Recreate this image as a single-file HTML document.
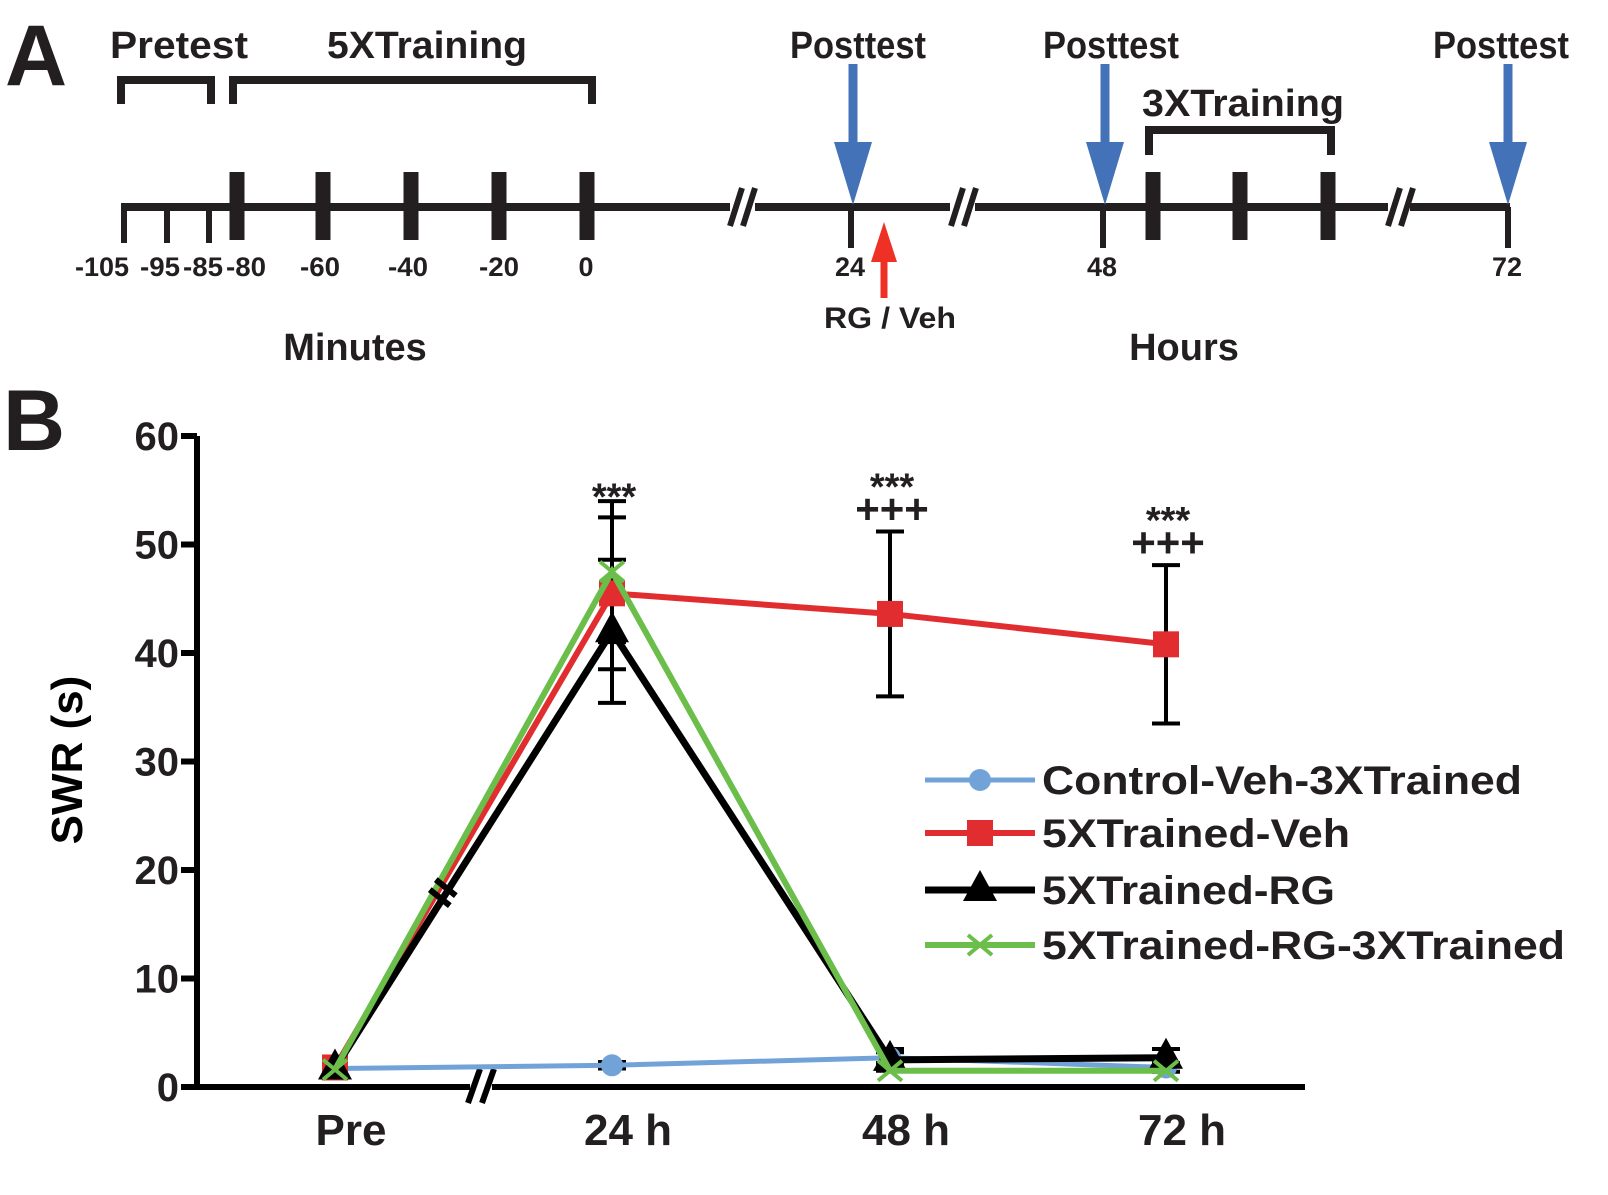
<!DOCTYPE html>
<html><head><meta charset="utf-8"><style>
html,body{margin:0;padding:0;background:#fff}
svg{display:block;font-family:"Liberation Sans",Arial,sans-serif;font-weight:bold}
</style></head><body>
<svg id="fig" width="1608" height="1195" viewBox="0 0 1608 1195">
<g fill="#231f20">
  <text x="5" y="85" font-size="86">A</text>
  <text x="110" y="58" font-size="38" textLength="138" lengthAdjust="spacingAndGlyphs">Pretest</text>
  <text x="327" y="58" font-size="38" textLength="200" lengthAdjust="spacingAndGlyphs">5XTraining</text>
  <path d="M121,104 V80 H211 V104 M233,104 V80 H592 V104" fill="none" stroke="#231f20" stroke-width="8"/>
  <text x="790" y="58" font-size="38" textLength="136" lengthAdjust="spacingAndGlyphs">Posttest</text>
  <text x="1043" y="58" font-size="38" textLength="136" lengthAdjust="spacingAndGlyphs">Posttest</text>
  <text x="1433" y="58" font-size="38" textLength="136" lengthAdjust="spacingAndGlyphs">Posttest</text>
  <text x="1142" y="116" font-size="38" textLength="202" lengthAdjust="spacingAndGlyphs">3XTraining</text>
  <path d="M1149,155 V130 H1331 V155" fill="none" stroke="#231f20" stroke-width="8"/>
  <path d="M121,207 H730 M755,207 H950 M975,207 H1388 M1410,207 H1510" stroke="#231f20" stroke-width="8"/>
  <path d="M730,226 L742,188 M743,226 L755,188 M951,226 L963,188 M964,226 L976,188 M1388,226 L1400,188 M1401,226 L1413,188" stroke="#231f20" stroke-width="6"/>
  <path d="M124,203 V243 M167,203 V243 M209,203 V243 M851,207 V248 M1103,207 V248 M1508,207 V248" stroke="#231f20" stroke-width="6"/>
  <path d="M237,172 V240 M323,172 V240 M411,172 V240 M499,172 V240 M587,172 V240 M1153,172 V240 M1240,172 V240 M1328,172 V240" stroke="#231f20" stroke-width="15"/>
  <g font-size="27" text-anchor="middle">
    <text x="102" y="276" textLength="54" lengthAdjust="spacingAndGlyphs">-105</text><text x="160" y="276" textLength="40" lengthAdjust="spacingAndGlyphs">-95</text><text x="203" y="276" textLength="40" lengthAdjust="spacingAndGlyphs">-85</text><text x="246" y="276" textLength="40" lengthAdjust="spacingAndGlyphs">-80</text>
    <text x="320" y="276" textLength="40" lengthAdjust="spacingAndGlyphs">-60</text><text x="408" y="276" textLength="40" lengthAdjust="spacingAndGlyphs">-40</text><text x="499" y="276" textLength="40" lengthAdjust="spacingAndGlyphs">-20</text><text x="586" y="276">0</text>
    <text x="850" y="276">24</text><text x="1102" y="276">48</text><text x="1507" y="276">72</text>
    <text x="890" y="328" font-size="30" textLength="132" lengthAdjust="spacingAndGlyphs">RG / Veh</text>
  </g>
  <text x="355" y="360" font-size="38" text-anchor="middle">Minutes</text>
  <text x="1184" y="360" font-size="38" text-anchor="middle">Hours</text>
  <g fill="#4472b8" stroke="#4472b8">
    <path d="M853,64 V150" stroke-width="9"/><path d="M834,142 L872,142 L853,205Z" stroke="none"/>
    <path d="M1105,64 V150" stroke-width="9"/><path d="M1086,142 L1124,142 L1105,205Z" stroke="none"/>
    <path d="M1508,64 V150" stroke-width="9"/><path d="M1489,142 L1527,142 L1508,205Z" stroke="none"/>
  </g>
  <g fill="#ee3124" stroke="#ee3124"><path d="M884,298 V255" stroke-width="7"/><path d="M871,262 L897,262 L884,222Z" stroke="none"/></g>
</g>
<text x="3" y="450" font-size="86" fill="#231f20">B</text>
<g id="chart"></g>
<script>
const categories = ["Pre", "24 h", "48 h", "72 h"];
const yTicks = [0, 10, 20, 30, 40, 50, 60];
const seriesNames = ["Control-Veh-3XTrained", "5XTrained-Veh", "5XTrained-RG", "5XTrained-RG-3XTrained"];
const controlVals = [1.7, 2.0, 2.7, 1.8];
const vehVals = [1.8, 45.5, 43.6, 40.8];
const rgVals = [1.7, 42.0, 2.5, 2.7];
const rg3Vals = [1.6, 47.5, 1.5, 1.5];
const controlErr = [0, 0.3, 0.5, 0.4];
const vehErr = [0, 7.0, 7.6, 7.3];
const rgErr = [0, 6.6, 1.0, 0.8];
const rg3Err = [0, 6.5, 0, 0];
const annStars = ["", "***", "***", "***"];
const annPlus = ["", "", "+++", "+++"];

const NS = "http://www.w3.org/2000/svg";
const g = document.getElementById("chart");
const x0 = 197, x1 = 1305, yBase = 1087, yTop = 436;
const xPos = [335, 612, 890, 1166];
function Y(v){ return yBase - v / 60 * (yBase - yTop); }
function mk(tag, attrs, parent){ const e = document.createElementNS(NS, tag); for (const k in attrs) e.setAttribute(k, attrs[k]); (parent||g).appendChild(e); return e; }
function xs(i){ return xPos[i]; }

let ax = mk("path", {d:`M${x0},${yTop} V${yBase} H${x1}`, fill:"none", stroke:"#000", "stroke-width":6});


yTicks.forEach(t => {
  mk("line", {x1:x0-16, x2:x0, y1:Y(t), y2:Y(t), stroke:"#000", "stroke-width":6});
  const tx = mk("text", {x:x0-18, y:Y(t)+14, "font-size":40, "text-anchor":"end", fill:"#231f20"});
  tx.textContent = t;
  
  
});
categories.forEach((c, i) => {
  const tx = mk("text", {x:xs(i)+16, y:1145, "font-size":44, "text-anchor":"middle", fill:"#231f20"});
  tx.textContent = c;
  
  
});
const yl = mk("text", {x:0, y:0, "font-size":44, "text-anchor":"middle", fill:"#000", transform:"translate(82,760) rotate(-90)"});
yl.textContent = "SWR (s)";


mk("rect", {x:470, y:yBase-14, width:22, height:28, fill:"#fff"});
mk("path", {d:`M468,${yBase+16} L480,${yBase-18} M482,${yBase+16} L494,${yBase-18}`, stroke:"#000", "stroke-width":6});

const series = [
  {vals:controlVals, err:controlErr, color:"#72a3d8", w:5, m:"circle"},
  {vals:vehVals, err:vehErr, color:"#e12d2f", w:6, m:"square"},
  {vals:rgVals, err:rgErr, color:"#000", w:7, m:"triangle"},
  {vals:rg3Vals, err:rg3Err, color:"#6cbe4b", w:6, m:"x"}
];
series.forEach(s => s.vals.forEach((v, i) => {
  if (!s.err[i]) return;
  const e = mk("path", {d:`M${xs(i)},${Y(v+s.err[i])} V${Y(v-s.err[i])} M${xs(i)-14},${Y(v+s.err[i])} H${xs(i)+14} M${xs(i)-14},${Y(v-s.err[i])} H${xs(i)+14}`, stroke:"#000", "stroke-width":4, fill:"none"});
  
  
}));
function marker(type, x, y, color, parent){
  let e;
  if (type === "circle") e = mk("circle", {cx:x, cy:y, r:11, fill:color}, parent);
  else if (type === "square") e = mk("rect", {x:x-13, y:y-13, width:26, height:26, fill:color}, parent);
  else if (type === "triangle") e = mk("path", {d:`M${x},${y-20} L${x+17},${y+11} L${x-17},${y+11}Z`, fill:color}, parent);
  else e = mk("path", {d:`M${x-12},${y-10} L${x+12},${y+10} M${x-12},${y+10} L${x+12},${y-10}`, stroke:color, "stroke-width":4}, parent);
  return e;
}
series.forEach((s, si) => {
  const pts = s.vals.map((v, i) => `${xs(i)},${Y(v)}`).join(" ");
  const pl = mk("polyline", {points:pts, fill:"none", stroke:s.color, "stroke-width":s.w, "stroke-linejoin":"miter"});
  
  
  s.vals.forEach((v, i) => {
    const m = marker(s.m, xs(i), Y(v), s.color);
    
    
  });
});
(function(){
  const xa = xs(0), xb = xs(1), ya = Y(rgVals[0]), yb = Y(rgVals[1]);
  const t = 0.4, mx = xa + (xb-xa)*t, my = ya + (yb-ya)*t;
  mk("path", {d:`M${mx-16},${my-4} L${mx+4},${my+12} M${mx-10},${my-14} L${mx+10},${my+2}`, stroke:"#000", "stroke-width":6});
})();
categories.forEach((c, i) => {
  if (annStars[i]) { const t = mk("text", {x:xs(i)+2, y:Y(vehVals[i]+vehErr[i]) - (annPlus[i]?32:8), "font-size":38, "text-anchor":"middle", fill:"#231f20"}); t.textContent = annStars[i];   }
  if (annPlus[i]) { const t = mk("text", {x:xs(i)+2, y:Y(vehVals[i]+vehErr[i]) - 8, "font-size":42, "text-anchor":"middle", fill:"#231f20"}); t.textContent = annPlus[i];   }
});
const legY = [780, 833, 890, 945];
const legW = [480, 308, 293, 523];
seriesNames.forEach((n, i) => {
  const s = series[i];
  const lg = mk("g", {});
  
  
  mk("line", {x1:925, x2:1035, y1:legY[i], y2:legY[i], stroke:s.color, "stroke-width":s.w}, lg);
  marker(s.m, 980, legY[i], s.color, lg);
  const t = mk("text", {x:1042, y:legY[i]+14, "font-size":40, fill:"#231f20", textLength:legW[i], lengthAdjust:"spacingAndGlyphs"}, lg);
  t.textContent = n;
});
</script>
</svg>
</body></html>
